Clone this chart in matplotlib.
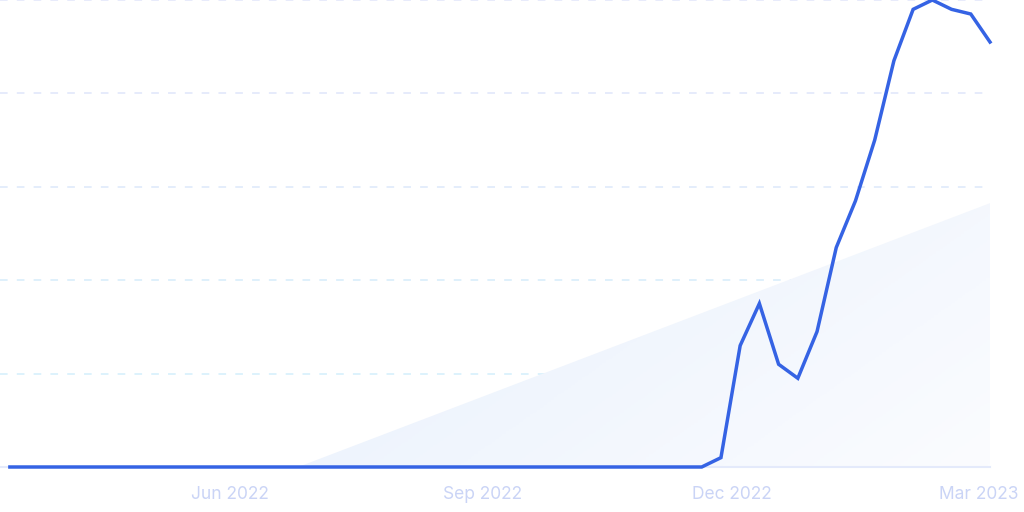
import numpy as np
import pandas as pd
import matplotlib
matplotlib.use("Agg")
import matplotlib.pyplot as plt
import matplotlib.dates as mdates
from matplotlib.colors import LinearSegmentedColormap

# weekly interest values
dates = pd.date_range("2022-03-13", periods=52, freq="W-SUN")
values = [0] * 37 + [2, 26, 35, 22, 19, 29, 47, 57, 70, 87, 98, 100, 98, 97, 91]

# background trend wedge
trend_dates = pd.to_datetime(["2022-06-26", "2023-03-05"])
trend_values = [0, 56.5]

tick_dates = pd.to_datetime(["2022-06-01", "2022-09-01", "2022-12-01", "2023-03-01"])
tick_labels = ["Jun 2022", "Sep 2022", "Dec 2022", "Mar 2023"]
grid_levels = [20, 40, 60, 80, 100]
grid_colors = ["#d3effc", "#d6ecfb", "#dce8fa", "#dfe6fa", "#e2e6fa"]

plt.rcParams["font.family"] = ["Inter", "DejaVu Sans"]

fig = plt.figure(figsize=(10.24, 5.12), dpi=100)
ax = fig.add_axes([0, 45 / 512, 990 / 1024, 467 / 512])

x0 = dates[0] - pd.Timedelta(days=3.6)
ax.set_xlim(x0, dates[-1])
ax.set_ylim(0, 100)

# gradient wedge
poly = ax.fill_between(trend_dates, 0, trend_values, color="none", lw=0)
cmap = LinearSegmentedColormap.from_list("wedge", ["#e7f0fc", "#fbfcff"])
xx, yy = np.meshgrid(np.linspace(0, 1, 200), np.linspace(0, 1, 200))
grad = 0.65 * xx + 0.35 * yy
xl = mdates.date2num(trend_dates)
img = ax.imshow(grad, cmap=cmap, aspect="auto", origin="upper",
                extent=[xl[0], xl[1], 0, trend_values[1]], zorder=1)
img.set_clip_path(poly.get_paths()[0], transform=ax.transData)

for g, c in zip(grid_levels, grid_colors):
    ax.axhline(g, color=c, lw=1.1, ls=(0, (5, 6)), zorder=0, clip_on=False)
ax.axhline(0, color="#e4eafb", lw=1.5, zorder=2, clip_on=False)

ax.plot(dates, values, color="#3563e4", lw=2.5, zorder=3, clip_on=False,
        solid_joinstyle="miter")

for s in ax.spines.values():
    s.set_visible(False)
ax.set_yticks([])
ax.set_xticks(tick_dates)
ax.set_xticklabels(tick_labels)
ax.tick_params(axis="x", length=0, pad=14, labelsize=12.5, labelcolor="#cad4f6")

fig.savefig("out.png", dpi=100)
